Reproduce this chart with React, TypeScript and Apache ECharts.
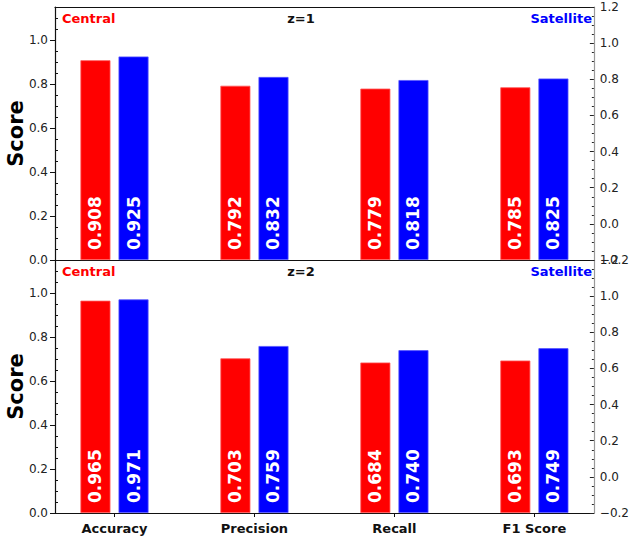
import React, { useEffect, useRef } from "react";
import * as echarts from "echarts";

const categories = ["Accuracy", "Precision", "Recall", "F1 Score"];
const centralZ1 = [0.908, 0.792, 0.779, 0.785];
const satelliteZ1 = [0.925, 0.832, 0.818, 0.825];
const centralZ2 = [0.965, 0.703, 0.684, 0.693];
const satelliteZ2 = [0.971, 0.759, 0.74, 0.749];
const leftTicks = [0, 0.2, 0.4, 0.6, 0.8, 1.0];
const leftMinorTicks = [0.05, 0.1, 0.15, 0.25, 0.3, 0.35, 0.45, 0.5, 0.55, 0.65, 0.7, 0.75, 0.85, 0.9, 0.95, 1.05, 1.1];
const panelTitles = ["z=1", "z=2"];
const categoryPositions = [0, 1, 2, 3];

const FONT = "DejaVu Sans";
const GRID_LEFT = 55;
const GRID_W = 543;
const GRID_H = 253;
const TOPS = [7, 260];

export default function App() {
  const ref = useRef<HTMLDivElement>(null);
  useEffect(() => {
    if (!ref.current) return;
    const chart = echarts.init(ref.current, null, { renderer: "svg" });
    const fmt1 = (v: number) => v.toFixed(1).replace("-", "\u2212");

    const xAxes: any[] = [];
    const yAxes: any[] = [];
    const series: any[] = [];
    const graphics: any[] = [];
    const panels = [
      [centralZ1, satelliteZ1],
      [centralZ2, satelliteZ2],
    ];

    panels.forEach((pd, gi) => {
      const isBottom = gi === 1;
      xAxes.push({
        gridIndex: gi,
        type: "value",
        min: -0.425,
        max: 3.425,
        position: "bottom",
        axisLine: { show: true, onZero: false, lineStyle: { color: "#111", width: 1.2 } },
        axisTick: isBottom
          ? { show: true, customValues: categoryPositions, length: 4, lineStyle: { color: "#111" } }
          : { show: false },
        axisLabel: isBottom
          ? {
              show: true,
              customValues: categoryPositions,
              formatter: (v: number) => categories[Math.round(v)] ?? "",
              fontFamily: FONT,
              fontWeight: "bold",
              fontSize: 13,
              color: "#111",
              margin: 9,
            }
          : { show: false },
        splitLine: { show: false },
      });
      xAxes.push({
        gridIndex: gi,
        type: "value",
        min: -0.425,
        max: 3.425,
        position: "top",
        axisLine: { show: true, onZero: false, lineStyle: { color: "#111", width: 1.2 } },
        axisTick: { show: false },
        axisLabel: { show: false },
        splitLine: { show: false },
      });
      yAxes.push({
        gridIndex: gi,
        type: "value",
        position: "left",
        min: 0,
        max: 1.15,
        axisLine: { show: true, onZero: false, lineStyle: { color: "#111", width: 1.2 } },
        axisTick: { show: true, customValues: leftTicks, length: 5, lineStyle: { color: "#111" } },
        axisLabel: {
          show: true,
          customValues: leftTicks,
          formatter: fmt1,
          fontFamily: FONT,
          fontSize: 12,
          color: "#222",
          margin: 7,
        },
        splitLine: { show: false },
      });
      yAxes.push({
        gridIndex: gi,
        type: "value",
        position: "left",
        min: 0,
        max: 1.15,
        axisLine: { show: false, onZero: false },
        axisTick: { show: true, inside: true, customValues: leftMinorTicks, length: 3, lineStyle: { color: "#111" } },
        axisLabel: { show: false },
        splitLine: { show: false },
      });
      yAxes.push({
        gridIndex: gi,
        type: "value",
        position: "right",
        min: -0.2,
        max: 1.2,
        interval: 0.2,
        axisLine: { show: true, onZero: false, lineStyle: { color: "#999", width: 1.2 } },
        axisTick: { show: true, inside: true, length: 4, lineStyle: { color: "#222" } },
        minorTick: { show: true, splitNumber: 4, length: 2, lineStyle: { color: "#222" } },
        axisLabel: {
          show: true,
          formatter: fmt1,
          fontFamily: FONT,
          fontSize: 12,
          color: "#222",
          margin: 6,
        },
        splitLine: { show: false },
      });

      const xIdx = gi * 2;
      const yIdx = gi * 3;
      const colors = ["#ff0000", "#0000ff"];
      const borders = ["#ff5555", "#5555ff"];
      pd.forEach((vals, si) => {
        series.push({
          type: "bar",
          name: si === 0 ? "Central" : "Satellite",
          xAxisIndex: xIdx,
          yAxisIndex: yIdx,
          barWidth: 30,
          barGap: "27%",
          data: vals.map((v, i) => [categoryPositions[i], v]),
          itemStyle: { color: colors[si], borderColor: borders[si], borderWidth: 0.8 },
          label: {
            show: true,
            position: "insideBottom",
            rotate: 90,
            align: "left",
            verticalAlign: "middle",
            distance: 10,
            color: "#fff",
            fontFamily: FONT,
            fontWeight: "bold",
            fontSize: 17,
            formatter: (p: any) => Number(p.value[1]).toFixed(3),
          },
        });
      });

      const top = TOPS[gi];
      graphics.push(
        {
          type: "text",
          x: 62,
          y: top + 11,
          style: { text: "Central", fill: "#ff0000", font: `bold 13px "${FONT}"`, align: "left", verticalAlign: "middle" },
        },
        {
          type: "text",
          x: 592,
          y: top + 11,
          style: { text: "Satellite", fill: "#0000ff", font: `bold 13px "${FONT}"`, align: "right", verticalAlign: "middle" },
        },
        {
          type: "text",
          x: 301,
          y: top + 11,
          style: { text: panelTitles[gi], fill: "#111", font: `bold 13px "${FONT}"`, align: "center", verticalAlign: "middle" },
        },
        {
          type: "text",
          x: 16,
          y: top + GRID_H / 2,
          rotation: Math.PI / 2,
          style: { text: "Score", fill: "#000", font: `bold 21px "${FONT}"`, align: "center", verticalAlign: "middle" },
        }
      );
    });

    chart.setOption({
      animation: false,
      backgroundColor: "#fff",
      grid: TOPS.map((t) => ({ left: GRID_LEFT, top: t, width: GRID_W, height: GRID_H, containLabel: false })),
      xAxis: xAxes,
      yAxis: yAxes,
      series,
      graphic: graphics,
    });
    return () => chart.dispose();
  }, []);
  return <div ref={ref} style={{ width: 632, height: 540, position: "absolute", left: 0, top: 0 }} />;
}
